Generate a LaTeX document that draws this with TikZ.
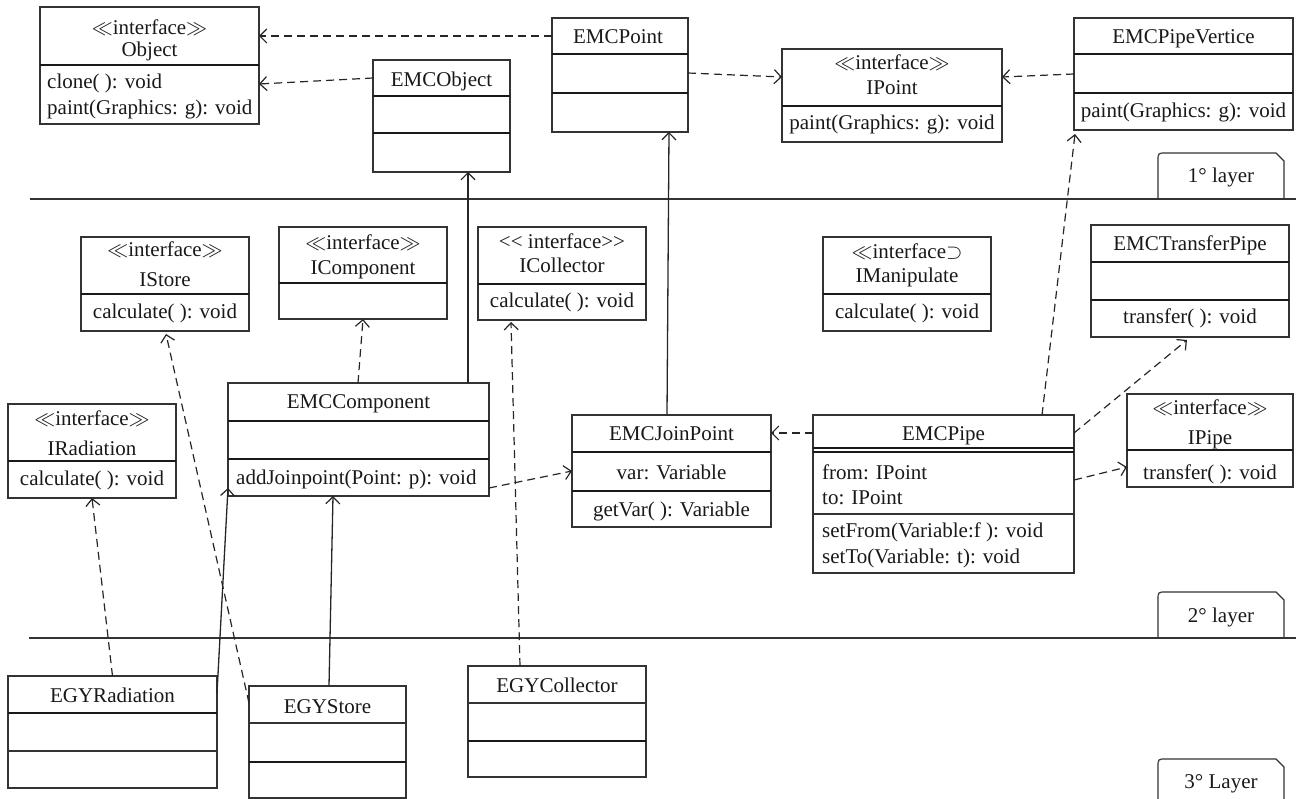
\RequirePackage{fix-cm}
\documentclass[tikz,border=0pt]{standalone}
\usepackage{fontspec}
\setmainfont{Liberation Serif}
\usetikzlibrary{arrows.meta}

% class box spanning (x1,y1)-(x2,y2), y measured downwards
\newcommand\classbox[5]{\node[cls, minimum width={(#4-#2)*1pt}, minimum height={(#5-#3)*1pt}] (#1) at ({(#2+#4)/2},{(#3+#5)/2}) {};}
% compartment separator of a class box at height y
\newcommand\compsep[2]{\draw[divline] (#1.west |- 0,#2) -- (#1.east |- 0,#2);}
\newcommand\thinsep[2]{\draw[draw=black!80, line width=1.3pt] (#1.west |- 0,#2) -- (#1.east |- 0,#2);}
\newcommand\ctext[4]{\node[txt] (#1) at (#2,#3) {#4};}
\newcommand\ltext[4]{\node[txt, anchor=west] (#1) at (#2,#3) {#4};}
\newcommand\stereo{$\ll$interface$\gg$}

\begin{document}
\begin{tikzpicture}[x=1pt, y=-1pt,
  font=\fontsize{21}{24}\selectfont,
  cls/.style={draw=black!80, line width=1.3pt, inner sep=0pt, outer sep=0pt, fill=white},
  divline/.style={draw=black!90, line width=2pt},
  txt/.style={inner sep=0pt, text height=14pt, text depth=0pt, text=black!90},
  tipstyle/.style={-{Straight Barb[length=7pt, width=14pt, line width=1.2pt]}},
  dep/.style={tipstyle, draw=black!85, line width=1.2pt, dash pattern=on 8pt off 5pt},
  gen/.style={tipstyle, draw=black!85, line width=1.3pt},
  layerline/.style={draw=black!80, line width=#1},
  layertab/.style={draw=black!80, line width=1.2pt}]
\useasboundingbox (0,0) rectangle (1296,799);

% ---------------- layer 1 ----------------
\classbox{obj}{40}{7}{259}{124}
\compsep{obj}{65}
\ctext{obj-s}{149.5}{28}{\stereo}
\ctext{obj-n}{149.5}{50}{Object}
\ltext{obj-m1}{47}{82}{clone( ): void}
\ltext{obj-m2}{47}{108}{paint(Graphics: g): void}

\classbox{emcobj}{373}{60}{510}{172}
\compsep{emcobj}{96}
\compsep{emcobj}{133}
\ctext{emcobj-n}{441.5}{80}{EMCObject}

\classbox{emcpt}{552}{18}{688}{132}
\compsep{emcpt}{54}
\compsep{emcpt}{93}
\ctext{emcpt-n}{618}{37}{EMCPoint}

\classbox{ipoint}{782}{49}{1002}{142}
\compsep{ipoint}{106}
\ctext{ipoint-s}{892}{63}{\stereo}
\ctext{ipoint-n}{892}{88}{IPoint}
\ctext{ipoint-m}{892}{123}{paint(Graphics: g): void}

\classbox{vert}{1074}{18}{1293}{130}
\compsep{vert}{54}
\compsep{vert}{93}
\ctext{vert-n}{1183.5}{37}{EMCPipeVertice}
\ctext{vert-m}{1183.5}{111}{paint(Graphics: g): void}

% ---------------- layer 2 ----------------
\classbox{istore}{81}{237}{249}{331}
\compsep{istore}{294}
\ctext{istore-s}{165}{250}{\stereo}
\ctext{istore-n}{165}{280}{IStore}
\ctext{istore-m}{165}{312}{calculate( ): void}

\classbox{icomp}{279}{227}{447}{319}
\compsep{icomp}{283}
\ctext{icomp-s}{363}{243}{\stereo}
\ctext{icomp-n}{363}{268}{IComponent}

\classbox{icoll}{478}{227}{646}{320}
\compsep{icoll}{284}
\ctext{icoll-s}{562}{242}{<{}< interface>{}>}
\ctext{icoll-n}{562}{266}{ICollector}
\ctext{icoll-m}{562}{301}{calculate( ): void}

\classbox{imanip}{823}{237}{991}{331}
\compsep{imanip}{294}
\ctext{imanip-s}{907}{252}{$\ll$interface$\supset$}
\ctext{imanip-n}{907}{276}{IManipulate}
\ctext{imanip-m}{907}{312}{calculate( ): void}

\classbox{xfer}{1091}{225}{1289}{337}
\compsep{xfer}{262}
\compsep{xfer}{300}
\ctext{xfer-n}{1190}{244}{EMCTransferPipe}
\ctext{xfer-m}{1190}{317}{transfer( ): void}

\classbox{comp}{228}{383}{489}{496}
\compsep{comp}{421}
\compsep{comp}{459}
\ctext{comp-n}{358.5}{402}{EMCComponent}
\ltext{comp-m}{236}{477}{addJoinpoint(Point: p): void}

\classbox{irad}{8}{404}{176}{498}
\compsep{irad}{461}
\ctext{irad-s}{92}{418}{\stereo}
\ctext{irad-n}{92}{448}{IRadiation}
\ctext{irad-m}{92}{478}{calculate( ): void}

\classbox{joinpt}{572}{415}{771}{527}
\compsep{joinpt}{452}
\compsep{joinpt}{491}
\ctext{joinpt-n}{671.5}{433}{EMCJoinPoint}
\ctext{joinpt-a}{671.5}{472}{var: Variable}
\ctext{joinpt-m}{671.5}{509}{getVar( ): Variable}

\classbox{pipe}{813}{415}{1074}{573}
\draw[draw=black!90, line width=1.2pt] (pipe.west |- 0,448) -- (pipe.east |- 0,448);
\draw[draw=black!90, line width=1.2pt] (pipe.west |- 0,452) -- (pipe.east |- 0,452);
\thinsep{pipe}{514}
\ctext{pipe-n}{943.5}{433}{EMCPipe}
\ltext{pipe-a1}{822}{472}{from: IPoint}
\ltext{pipe-a2}{822}{497}{to: IPoint}
\ltext{pipe-m1}{822}{530}{setFrom(Variable:f ): void}
\ltext{pipe-m2}{822}{556}{setTo(Variable: t): void}

\classbox{ipipe}{1127}{394}{1293}{487}
\compsep{ipipe}{450}
\ctext{ipipe-s}{1210}{407}{\stereo}
\ctext{ipipe-n}{1210}{437}{IPipe}
\ctext{ipipe-m}{1210}{472}{transfer( ): void}

% ---------------- layer 3 ----------------
\classbox{egyrad}{8}{676}{217}{788}
\compsep{egyrad}{713}
\thinsep{egyrad}{751}
\ctext{egyrad-n}{112.5}{695}{EGYRadiation}

\classbox{egystore}{249}{686}{406}{798}
\thinsep{egystore}{723}
\compsep{egystore}{762}
\ctext{egystore-n}{327.5}{706}{EGYStore}

\classbox{egycoll}{468}{666}{646}{777}
\thinsep{egycoll}{703}
\compsep{egycoll}{741}
\ctext{egycoll-n}{557}{685}{EGYCollector}

% ---------------- layer separators and tabs ----------------
\draw[layerline=1.4pt] (30,199) -- (1296,199);
\draw[layerline=2.6pt] (29,638) -- (1296,638);

\draw[layertab] (1158,198) -- (1158,161) .. controls (1158,153) .. (1166,153) -- (1276,153) -- (1284,161) -- (1284,198);
\node[txt] (tab1) at (1221,176) {1\textdegree\ layer};
\draw[layertab] (1158,637) -- (1158,600) .. controls (1158,592) .. (1166,592) -- (1276,592) -- (1284,600) -- (1284,637);
\node[txt] (tab2) at (1221,615) {2\textdegree\ layer};
\draw[layertab] (1158,800) -- (1158,767) .. controls (1158,759) .. (1166,759) -- (1276,759) -- (1284,767) -- (1284,800);
\node[txt] (tab3) at (1221,781) {3\textdegree\ Layer};

% ---------------- relationships ----------------
\draw[dep] ([yshift=-18pt]emcpt.north west) -- ([yshift=-29pt]obj.north east);
\draw[dep] ([yshift=-18pt]emcobj.north west) -- ([yshift=-77pt]obj.north east);
\draw[dep] ([yshift=-55pt]emcpt.north east) -- ([yshift=-28pt]ipoint.north west);
\draw[dep] ([yshift=-56pt]vert.north west) -- ([yshift=-28pt]ipoint.north east);
\draw[gen] ([xshift=-4.5pt]joinpt.north) -- ([xshift=49pt]emcpt.south);
\draw[gen] ([xshift=109.5pt]comp.north) -- ([xshift=26.5pt]emcobj.south);
\draw[dep] ([xshift=98.5pt]pipe.north) -- ([xshift=-108.5pt,yshift=-4pt]vert.south);
\draw[dep] ([xshift=-0.5pt]comp.north) -- (icomp.south);
\draw[dep] ([yshift=-105pt]comp.north east) -- ([yshift=-56pt]joinpt.north west);
\draw[dep] ([yshift=-18pt]pipe.north west) -- ([yshift=-18pt]joinpt.north east);
\draw[dep] ([yshift=-18pt]pipe.north east) -- ([xshift=-3pt,yshift=-3pt]xfer.south);
\draw[dep] ([yshift=-65pt]pipe.north east) -- ([yshift=-73pt]ipipe.north west);
\draw[dep] (egyrad.north) -- (irad.south);
\draw[gen] ([yshift=-17pt]egyrad.north east) -- ([yshift=8pt]comp.south west);
\draw[dep] ([yshift=-17pt]egystore.north west) -- ([xshift=1pt,yshift=-3pt]istore.south);
\draw[gen] ([xshift=1.5pt]egystore.north) -- ([xshift=-25.5pt]comp.south);
\draw[dep] ([xshift=-37pt]egycoll.north) -- ([xshift=-51pt,yshift=-2pt]icoll.south);
\end{tikzpicture}
\end{document}
